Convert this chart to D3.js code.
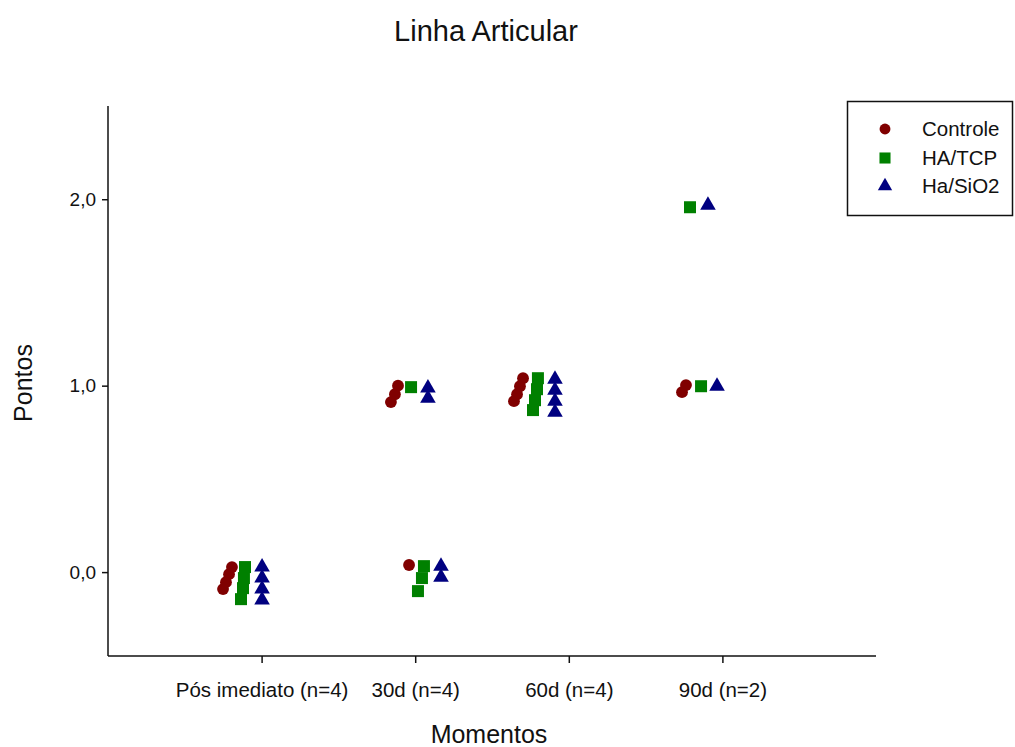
<!DOCTYPE html>
<html>
<head>
<meta charset="utf-8">
<script src="https://cdn.jsdelivr.net/npm/d3@7"></script>
<style>
  html, body { margin: 0; padding: 0; background: #fff; }
  svg { display: block; font-family: "Liberation Sans", Arial, sans-serif; }
</style>
</head>
<body>
<svg id="chart" width="1015" height="747"></svg>
<script>
// Moments (x categories) and y tick labels
const moments = ["Pós imediato (n=4)", "30d (n=4)", "60d (n=4)", "90d (n=2)"];
const yTicks = [0, 1, 2];
const yTickLabels = ["0,0", "1,0", "2,0"];

// Scores per group, as [moment position, score] pairs (points nudged apart where they coincide)
const controle = [
  [0.807, 0.027], [0.788, -0.011], [0.768, -0.054], [0.749, -0.091],
  [1.888, 1.000], [1.868, 0.954], [1.842, 0.912], [1.960, 0.038],
  [2.702, 1.040], [2.682, 0.997], [2.663, 0.954], [2.643, 0.917],
  [3.763, 1.003], [3.737, 0.965]
];
const haTcp = [
  [0.892, 0.027], [0.885, -0.032], [0.879, -0.086], [0.866, -0.145],
  [1.973, 0.992], [2.057, 0.032], [2.044, -0.032], [2.018, -0.102],
  [2.799, 1.040], [2.793, 0.981], [2.780, 0.922], [2.767, 0.869],
  [3.789, 1.957], [3.861, 0.997]
];
const haSio2 = [
  [1.003, 0.027], [1.003, -0.032], [1.003, -0.091], [1.003, -0.150],
  [2.083, 0.987], [2.083, 0.933], [2.168, 0.032], [2.168, -0.027],
  [2.910, 1.035], [2.910, 0.976], [2.910, 0.917], [2.910, 0.858],
  [3.906, 1.968], [3.965, 0.997]
];

const seriesNames = ["Controle", "HA/TCP", "Ha/SiO2"];
const seriesColors = ["#800000", "#008000", "#000080"];
const seriesSymbols = [d3.symbolCircle, d3.symbolSquare, d3.symbolTriangle];
const symbolSizes = [110, 144, 105];
const seriesData = [controle, haTcp, haSio2];

const svg = d3.select("#chart");

const x = d3.scaleLinear().domain([0, 5]).range([108, 876]);
const y = d3.scaleLinear().domain([-0.45, 2.5]).range([656, 106]);

const ink = "#111";

// Title
svg.append("text")
  .attr("x", 486).attr("y", 41)
  .attr("text-anchor", "middle")
  .attr("font-size", 29)
  .attr("fill", ink)
  .text("Linha Articular");

// Y axis
const yAxis = d3.axisLeft(y)
  .tickValues(yTicks)
  .tickFormat((d, i) => yTickLabels[i])
  .tickSize(6)
  .tickPadding(6);
const gy = svg.append("g").attr("transform", `translate(${x(0)},0)`).call(yAxis);
gy.select(".domain").attr("d", `M0,${y(2.5)}V${y(-0.45)}`);

// X axis
const xAxis = d3.axisBottom(x)
  .tickValues([1, 2, 3, 4])
  .tickFormat((d, i) => moments[i])
  .tickSize(7)
  .tickPadding(19);
const gx = svg.append("g").attr("transform", `translate(0,${y(-0.45)})`).call(xAxis);
gx.select(".domain").attr("d", `M${x(0)},0H${x(5)}`);

[gx, gy].forEach(g => {
  g.select(".domain").attr("stroke", ink).attr("stroke-width", 1.5);
  g.selectAll(".tick line").attr("stroke", ink).attr("stroke-width", 1.5);
  g.selectAll(".tick text").attr("fill", ink)
    .attr("font-family", "'Liberation Sans', Arial, sans-serif");
});
gy.selectAll(".tick text").attr("font-size", 19);
gx.selectAll(".tick text").attr("font-size", 20.5);

// Axis titles
svg.append("text")
  .attr("x", 489).attr("y", 743)
  .attr("text-anchor", "middle")
  .attr("font-size", 25)
  .attr("fill", ink)
  .text("Momentos");
svg.append("text")
  .attr("transform", "translate(32,383) rotate(-90)")
  .attr("text-anchor", "middle")
  .attr("font-size", 25)
  .attr("fill", ink)
  .text("Pontos");

// Points
seriesData.forEach((data, si) => {
  const sym = d3.symbol().type(seriesSymbols[si]).size(symbolSizes[si]);
  svg.append("g").selectAll("path")
    .data(data)
    .join("path")
    .attr("transform", d => `translate(${x(d[0])},${y(d[1])})`)
    .attr("d", sym)
    .attr("fill", seriesColors[si]);
});

// Legend
const legend = svg.append("g");
legend.append("rect")
  .attr("x", 847.5).attr("y", 101.5)
  .attr("width", 165).attr("height", 114)
  .attr("fill", "#fff").attr("stroke", ink).attr("stroke-width", 1.5);
const legendRows = [129, 158, 186];
seriesNames.forEach((name, i) => {
  legend.append("path")
    .attr("transform", `translate(885,${legendRows[i]})`)
    .attr("d", d3.symbol().type(seriesSymbols[i]).size(symbolSizes[i] * 0.85)())
    .attr("fill", seriesColors[i]);
  legend.append("text")
    .attr("x", 922).attr("y", legendRows[i])
    .attr("dy", "0.35em")
    .attr("font-size", 20.5)
    .attr("fill", ink)
    .text(name);
});
</script>
</body>
</html>
